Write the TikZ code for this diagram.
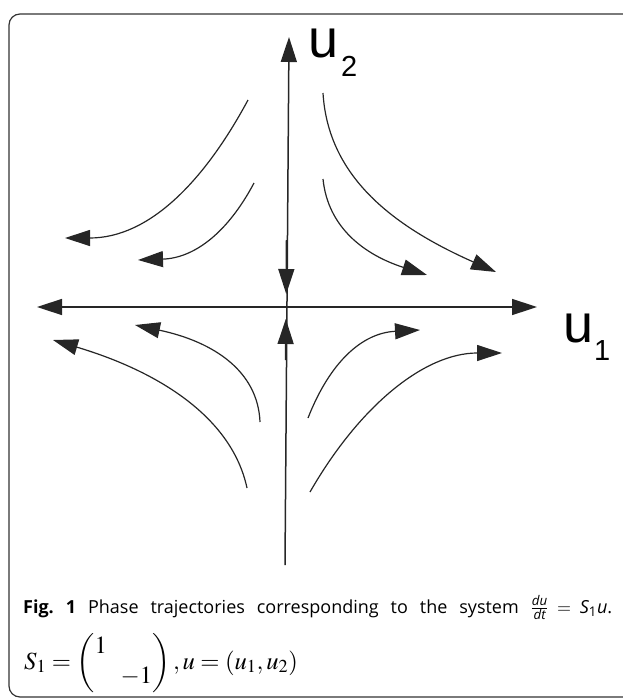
\documentclass[tikz,border=0pt]{standalone}
\usepackage{amsmath}
\usepackage{mathptmx}
\usepackage[no-math]{fontspec}
\setmainfont{Open Sans}
\newfontfamily\arialfont{Liberation Sans}
\usetikzlibrary{arrows.meta}
\tikzset{
  axis/.style={line width=1.5pt, draw=black!85, -{Triangle[length=25pt,width=16pt]}},
  traj/.style={line width=1.2pt, draw=black!85, -{Triangle[length=25pt,width=16pt]}},
  frame/.style={line width=1.2pt, draw=black!80, rounded corners=11pt},
  biglbl/.style={inner sep=0pt, anchor=base west, font=\arialfont\fontsize{54}{54}\selectfont},
  sublbl/.style={inner sep=0pt, anchor=base west, font=\arialfont\fontsize{29}{29}\selectfont},
  captxt/.style={inner sep=0pt, anchor=base west, font=\fontsize{18}{22}\selectfont}
}
\begin{document}
\begin{tikzpicture}[x=1pt,y=-1pt]
\useasboundingbox (0,0) rectangle (623,699);
% frame
\draw[frame] (9,14) rectangle (660,697);
% axes
\coordinate (vb) at (285,565);
\coordinate (vt) at (289,37);
\coordinate (hl) at (37,307);
\coordinate (hr) at (537,307);
\coordinate (hc) at (286,307);
\draw[axis] (vb) -- (vt);
\draw[axis] (hc) -- (hl);
\draw[axis] (hc) -- (hr);
% arrows on the vertical axis near origin
\coordinate (da0) at (286.5,240);
\coordinate (da1) at (286.2,294);
\coordinate (ua0) at (285.5,360);
\coordinate (ua1) at (285.8,319);
\draw[axis] (da0) -- (da1);
\draw[axis] (ua0) -- (ua1);
% labels
\node[biglbl] (u2) at (308,57) {u};
\node[sublbl] (u2s) at (341,76) {2};
\node[biglbl] (u1) at (563,342) {u};
\node[sublbl] (u1s) at (594,360) {1};
% trajectories
\coordinate (ulo0) at (248,100);  \coordinate (ulo1) at (65,238);
\coordinate (uli0) at (254,183);  \coordinate (uli1) at (138,260);
\coordinate (uro0) at (323,93);   \coordinate (uro1) at (496,272);
\coordinate (uri0) at (323,179);  \coordinate (uri1) at (427,275);
\coordinate (lli0) at (260,422);  \coordinate (lli1) at (135,325);
\coordinate (llo0) at (247,488);  \coordinate (llo1) at (53,340);
\coordinate (lri0) at (308,418);  \coordinate (lri1) at (420,330);
\coordinate (lro0) at (310,492);  \coordinate (lro1) at (502,353);
\draw[traj] (ulo0) .. controls (205,180) and (150,238) .. (ulo1);
\draw[traj] (uli0) .. controls (228,232) and (195,258) .. (uli1);
\draw[traj] (uro0) .. controls (328,175) and (390,225) .. (uro1);
\draw[traj] (uri0) .. controls (328,228) and (365,255) .. (uri1);
\draw[traj] (lli0) .. controls (258,372) and (215,342) .. (lli1);
\draw[traj] (llo0) .. controls (232,418) and (160,372) .. (llo1);
\draw[traj] (lri0) .. controls (330,362) and (362,333) .. (lri1);
\draw[traj] (lro0) .. controls (360,405) and (425,353) .. (lro1);
% caption
\node[captxt, text width=589pt, align=justify] (cap1) at (23,613) {\textbf{Fig.~1} Phase trajectories corresponding to the system $\frac{\textit{du}}{\textit{dt}}=\textit{S}_{\text{1}}\textit{u}$.\linebreak};
\node[captxt] (cap2) at (24,669) {\scalebox{1.37}{$S_1=\begin{pmatrix}1&\\&-1\end{pmatrix}, u=(u_1,u_2)$}};
\end{tikzpicture}
\end{document}
